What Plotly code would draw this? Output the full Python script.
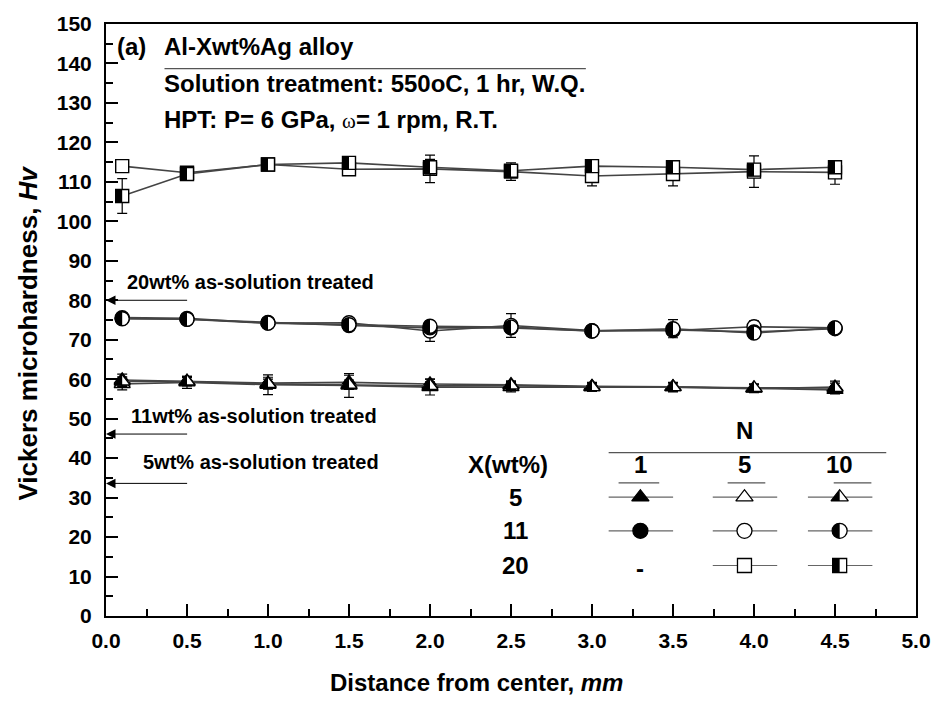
import math
import plotly.graph_objects as go

# ---- data -------------------------------------------------------------
distance = [0.1, 0.5, 1.0, 1.5, 2.0, 2.5, 3.0, 3.5, 4.0, 4.5]

# Al-5wt%Ag
hv_5_n1 = [59.8, 59.5, 59.0, 59.2, 58.8, 58.6, 58.2, 58.1, 57.7, 57.3]
err_5_n1 = [1.5, 1.2, 1.5, 1.8, 1.2, 1.0, 1.0, 1.0, 1.0, 1.0]
hv_5_n5 = [58.8, 59.2, 58.6, 58.4, 58.0, 58.0, 58.0, 58.0, 57.6, 58.0]
err_5_n5 = [1.5, 1.5, 2.5, 3.0, 2.0, 1.2, 1.0, 1.2, 1.0, 1.5]
hv_5_n10 = [59.4, 59.4, 58.8, 58.6, 58.3, 58.4, 58.0, 58.0, 57.8, 57.8]
err_5_n10 = [1.2, 1.0, 1.2, 1.2, 1.0, 1.0, 1.0, 1.0, 1.0, 1.2]

# Al-11wt%Ag
hv_11_n1 = [75.4, 75.2, 74.4, 73.6, 73.0, 73.0, 72.2, 72.5, 72.0, 72.8]
err_11_n1 = [0.8, 0.8, 0.8, 0.8, 0.8, 0.8, 0.8, 0.8, 0.8, 0.8]
hv_11_n5 = [75.6, 75.4, 74.2, 74.3, 72.2, 73.6, 72.3, 72.3, 73.3, 73.0]
err_11_n5 = [0.8, 0.8, 0.8, 1.0, 2.6, 3.0, 1.2, 1.2, 1.5, 0.8]
hv_11_n10 = [75.3, 75.2, 74.2, 73.8, 73.4, 73.2, 72.2, 72.8, 71.7, 73.0]
err_11_n10 = [0.8, 0.8, 0.8, 0.8, 0.8, 0.8, 0.8, 2.3, 0.8, 0.8]

# Al-20wt%Ag
hv_20_n5 = [114.0, 112.3, 114.4, 113.2, 113.3, 112.6, 111.5, 112.0, 112.6, 112.4]
err_20_n5 = [0.8, 1.2, 0.8, 1.3, 3.5, 2.2, 2.5, 3.0, 4.0, 3.0]
hv_20_n10 = [106.4, 112.0, 114.4, 114.8, 113.7, 112.8, 114.0, 113.7, 113.1, 113.7]
err_20_n10 = [4.4, 1.5, 0.8, 1.0, 2.0, 1.0, 1.0, 1.0, 1.5, 1.0]

# as-solution-treated hardness levels (arrows on the y axis)
solution_labels = ["20wt% as-solution treated", "11wt% as-solution treated",
                   "5wt% as-solution treated"]
solution_hv = [80.0, 46.1, 33.6]

y_ticks = list(range(0, 151, 10))
x_ticks = [i * 0.5 for i in range(11)]

FONT = "Liberation Sans, Arial, sans-serif"
LINE_GREY = "#444444"

# plot-area geometry (pixels)
W, H = 943, 702
L, R, T, B = 106, 20, 18, 86
PW, PH = W - L - R, H - T - B


def px(xpix):
    return (xpix - L) / PW


def py(ypix):
    return (H - B - ypix) / PH


def half_path(symbol, size):
    """Left half of a marker, in pixel offsets (y up)."""
    r = size / 2.0
    if symbol == "circle":
        pts = [(r * math.cos(math.radians(a)), r * math.sin(math.radians(a)))
               for a in range(90, 271, 10)]
    elif symbol == "square":
        pts = [(-r, -r), (0, -r), (0, r), (-r, r)]
    else:  # triangle-up, same geometry as plotly's symbol
        rt = r * 2 / math.sqrt(3)
        pts = [(0, r), (-rt, -r / 2), (0, -r / 2)]
    return "M" + " L".join(f"{x:.2f},{y:.2f}" for x, y in pts) + " Z"


fig = go.Figure()
shapes = []

SIZES = {"triangle-up": 14, "circle": 14, "square": 13}


def add_series(y, err, symbol, style):
    size = SIZES[symbol]
    fill = {"filled": "black", "open": "white", "half": "white"}[style]
    fig.add_trace(go.Scatter(
        x=distance, y=y, mode="lines+markers",
        line=dict(color=LINE_GREY, width=1.6),
        marker=dict(symbol=symbol, size=size, color=fill,
                    line=dict(color="black", width=1.4)),
        error_y=dict(type="data", array=err, color="black",
                     thickness=1.2, width=5),
        showlegend=False, cliponaxis=False,
    ))
    if style == "half":
        for xv, yv in zip(distance, y):
            shapes.append(dict(
                type="path", xref="x", yref="y",
                xsizemode="pixel", ysizemode="pixel",
                xanchor=xv, yanchor=yv,
                path=half_path(symbol, size),
                fillcolor="black", line=dict(width=0), layer="above"))


add_series(hv_5_n5, err_5_n5, "triangle-up", "open")
add_series(hv_5_n1, err_5_n1, "triangle-up", "filled")
add_series(hv_5_n10, err_5_n10, "triangle-up", "half")
add_series(hv_11_n5, err_11_n5, "circle", "open")
add_series(hv_11_n1, err_11_n1, "circle", "filled")
add_series(hv_11_n10, err_11_n10, "circle", "half")
add_series(hv_20_n5, err_20_n5, "square", "open")
add_series(hv_20_n10, err_20_n10, "square", "half")

annotations = []

# as-solution-treated arrows and labels
label_x = [0.115, 0.14, 0.215]
label_shift = [18, 18, 21]
for text, hv, lx, sh in zip(solution_labels, solution_hv, label_x, label_shift):
    annotations.append(dict(
        x=0, y=hv, xref="x", yref="y", ax=0.51, ay=hv, axref="x", ayref="y",
        showarrow=True, arrowhead=2, arrowsize=1.9, arrowwidth=1,
        arrowcolor="black", text=""))
    annotations.append(dict(
        x=lx, y=hv, xref="x", yref="y", yshift=sh, xanchor="left",
        yanchor="middle", showarrow=False, text=f"<b>{text}</b>",
        font=dict(family=FONT, size=20, color="black")))

# header text block
header = [
    (115, 41, "<b>(a)</b>"),
    (162, 41, "<b>Al-Xwt%Ag alloy</b>"),
    (162, 78, "<b>Solution treatment: 550oC, 1 hr, W.Q.</b>"),
    (162, 114, "<b>HPT: P= 6 GPa, </b><span style=\"font-family:'Liberation Serif';"
               "font-size:21px\">ω</span><b>= 1 rpm, R.T.</b>"),
]
for hx, hy, text in header:
    annotations.append(dict(x=px(hx), y=py(hy), xref="paper", yref="paper",
                            xanchor="left", yanchor="middle", showarrow=False,
                            text=text,
                            font=dict(family=FONT, size=24, color="black")))
shapes.append(dict(type="line", xref="paper", yref="paper",
                   x0=px(165), x1=px(590), y0=py(63), y1=py(63),
                   line=dict(color="#555", width=1.2)))

# axis titles
annotations.append(dict(x=px(480), y=py(683), xref="paper", yref="paper",
                        text="<b>Distance from center, <i>mm</i></b>",
                        showarrow=False, xanchor="center", yanchor="middle",
                        font=dict(family=FONT, size=24, color="black")))
annotations.append(dict(x=px(27), y=py(330), xref="paper", yref="paper",
                        text="<b>Vickers microhardness, <i>Hv</i></b>",
                        textangle=-90, showarrow=False,
                        xanchor="center", yanchor="middle",
                        font=dict(family=FONT, size=26, color="black")))

# symbol key table
key_cols = ["1", "5", "10"]
key_col_x = [645, 750, 846]
key_rows = ["5", "11", "20"]
key_row_y = [496, 530, 565]
key_symbols = ["triangle-up", "circle", "square"]
key_styles = ["filled", "open", "half"]


def key_text(x, y, text, size=24):
    annotations.append(dict(x=px(x), y=py(y), xref="paper", yref="paper",
                            text=f"<b>{text}</b>", showarrow=False,
                            xanchor="center", yanchor="middle",
                            font=dict(family=FONT, size=size, color="black")))


key_text(750, 429, "N")
key_text(511, 463, "X(wt%)")
for c, cx in zip(key_cols, key_col_x):
    key_text(cx, 463, c)
for r, ry in zip(key_rows, key_row_y):
    key_text(519, ry, r)
key_text(645, 568, "-")

shapes.append(dict(type="line", xref="paper", yref="paper",
                   x0=px(613), x1=px(893), y0=py(451), y1=py(451),
                   line=dict(color="#555", width=1.2)))
for x0, x1 in [(623, 664), (733, 771), (840, 878)]:
    shapes.append(dict(type="line", xref="paper", yref="paper",
                       x0=px(x0), x1=px(x1), y0=py(481.5), y1=py(481.5),
                       line=dict(color="#555", width=1.2)))

for sym, ry in zip(key_symbols, key_row_y):
    for style, cx in zip(key_styles, key_col_x):
        if sym == "square" and style == "filled":
            continue
        size = SIZES[sym] + 1
        fig.add_trace(go.Scatter(
            x=[px(cx - 32), px(cx + 33)], y=[py(ry)] * 2, mode="lines",
            line=dict(color="#666", width=1.2), xaxis="x2", yaxis="y2",
            showlegend=False, hoverinfo="skip"))
        fill = {"filled": "black", "open": "white", "half": "white"}[style]
        fig.add_trace(go.Scatter(
            x=[px(cx)], y=[py(ry)], mode="markers",
            marker=dict(symbol=sym, size=size, color=fill,
                        line=dict(color="black", width=1.3)),
            xaxis="x2", yaxis="y2", showlegend=False, hoverinfo="skip"))
        if style == "half":
            shapes.append(dict(
                type="path", xref="paper", yref="paper",
                xsizemode="pixel", ysizemode="pixel",
                xanchor=px(cx), yanchor=py(ry),
                path=half_path(sym, size),
                fillcolor="black", line=dict(width=0), layer="above"))

axis_common = dict(
    showline=True, linecolor="black", linewidth=2, mirror=True,
    ticks="inside", ticklen=12, tickwidth=2, tickcolor="black",
    showgrid=False, zeroline=False,
    tickfont=dict(family=FONT, size=21, color="black", weight="bold"),
)

fig.update_layout(
    width=W, height=H,
    margin=dict(l=L, r=R, t=T, b=B),
    paper_bgcolor="white", plot_bgcolor="white",
    xaxis=dict(range=[0, 5], tickvals=x_ticks, tickformat=".1f",
               ticklabelstandoff=5,
               minor=dict(ticks="inside", dtick=0.25, ticklen=7,
                          tickwidth=2, tickcolor="black"),
               **axis_common),
    yaxis=dict(range=[0, 150], tickvals=y_ticks, ticklabelstandoff=8,
               minor=dict(ticks="inside", dtick=5, ticklen=7,
                          tickwidth=2, tickcolor="black"),
               **axis_common),
    xaxis2=dict(range=[0, 1], overlaying="x", visible=False),
    yaxis2=dict(range=[0, 1], overlaying="y", visible=False),
    shapes=shapes,
    annotations=annotations,
)

fig.write_html("out.html")
